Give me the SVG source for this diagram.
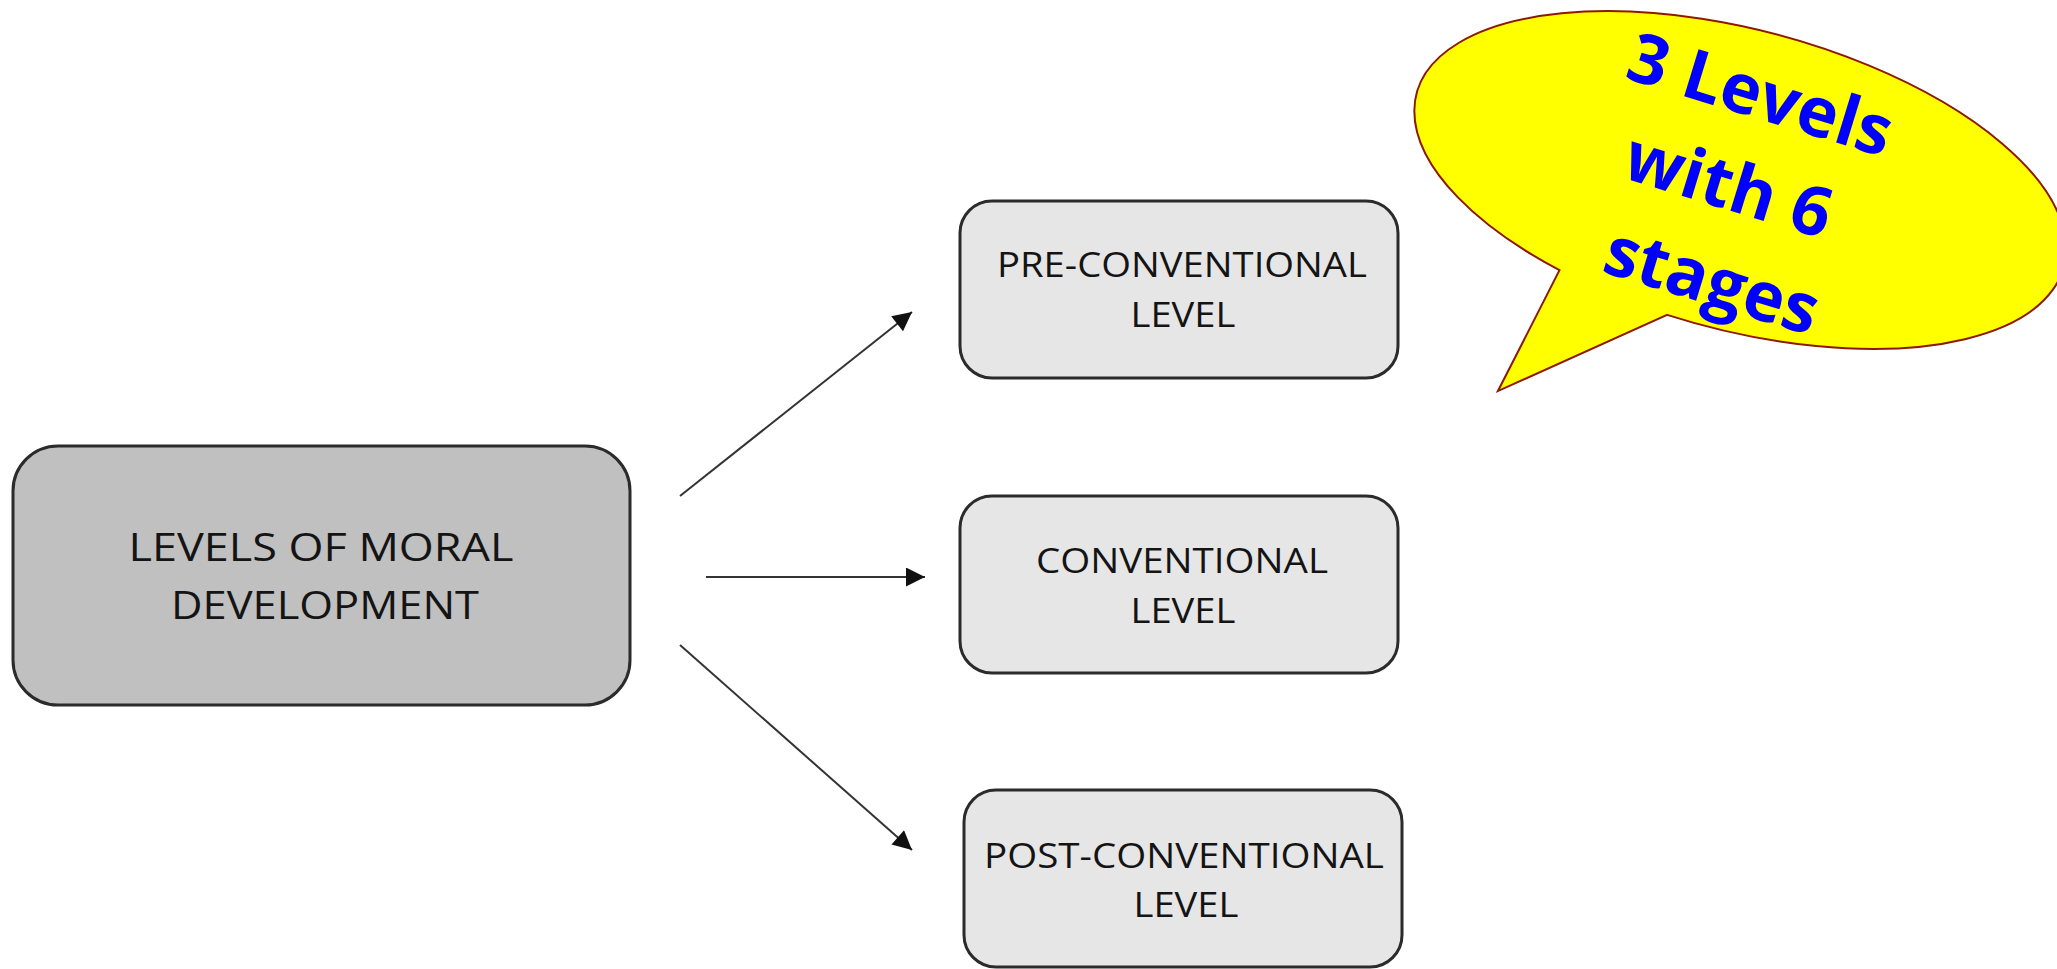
<svg xmlns="http://www.w3.org/2000/svg" width="2057" height="969" viewBox="0 0 2057 969">
<style>
.box{stroke:#2b2b2b;stroke-width:3}
.main{fill:#c0c0c0}
.sub{fill:#e6e6e6}
.lbl{font-family:"Open Sans","Liberation Sans",sans-serif;fill:#141414;text-anchor:middle}
.conn{stroke:#333;stroke-width:2;fill:none;marker-end:url(#ah)}
.call{font-family:"Open Sans","Liberation Sans",sans-serif;font-weight:bold;fill:#0000ff;text-anchor:middle;font-size:69px}
</style>
<defs>
<marker id="ah" viewBox="0 0 10 10" refX="10" refY="5" markerWidth="24" markerHeight="19" markerUnits="userSpaceOnUse" orient="auto">
<path d="M0,0 L10,5 L0,10 Z" fill="#111"/>
</marker>
</defs>
<rect width="2057" height="969" fill="#fff"/>
<g id="callout">
<g transform="translate(1740,180) rotate(15)">
<path d="M -151,133.8 L -179.2,266.5 L -35.5,149.1 A 335 150 0 1 0 -151,133.8 Z" fill="#ffff00" stroke="#8b1a00" stroke-width="2"/>
</g>
<g transform="translate(1735,185) rotate(17)">
<text class="call" x="-2" y="-70">3 Levels</text>
<text class="call" x="-6" y="26">with 6</text>
<text class="call" x="6" y="122">stages</text>
</g>
</g>
<g id="connectors">
<line class="conn" x1="680" y1="496" x2="912" y2="312"/>
<line class="conn" x1="706" y1="577" x2="925" y2="577"/>
<line class="conn" x1="680" y1="645" x2="912" y2="850"/>
</g>
<g id="node-main">
<rect class="box main" x="13" y="446" width="617" height="259" rx="45"/>
<text class="lbl" font-size="39" x="321" y="561" textLength="385" lengthAdjust="spacingAndGlyphs">LEVELS OF MORAL</text>
<text class="lbl" font-size="39" x="325" y="619" textLength="308" lengthAdjust="spacingAndGlyphs">DEVELOPMENT</text>
</g>
<g id="node-pre">
<rect class="box sub" x="960" y="201" width="438" height="177" rx="32"/>
<text class="lbl" font-size="35" x="1182" y="277" textLength="370" lengthAdjust="spacingAndGlyphs">PRE-CONVENTIONAL</text>
<text class="lbl" font-size="35" x="1183" y="327" textLength="105" lengthAdjust="spacingAndGlyphs">LEVEL</text>
</g>
<g id="node-conv">
<rect class="box sub" x="960" y="496" width="438" height="177" rx="32"/>
<text class="lbl" font-size="35" x="1182" y="573" textLength="292" lengthAdjust="spacingAndGlyphs">CONVENTIONAL</text>
<text class="lbl" font-size="35" x="1183" y="623" textLength="105" lengthAdjust="spacingAndGlyphs">LEVEL</text>
</g>
<g id="node-post">
<rect class="box sub" x="964" y="790" width="438" height="177" rx="32"/>
<text class="lbl" font-size="35" x="1184" y="868" textLength="400" lengthAdjust="spacingAndGlyphs">POST-CONVENTIONAL</text>
<text class="lbl" font-size="35" x="1186" y="917" textLength="105" lengthAdjust="spacingAndGlyphs">LEVEL</text>
</g>
</svg>
